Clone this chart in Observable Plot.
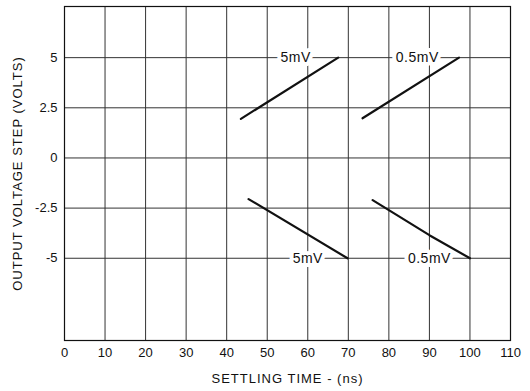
<!DOCTYPE html>
<html><head><meta charset="utf-8">
<script src="https://cdn.jsdelivr.net/npm/d3@7"></script>
<script src="https://cdn.jsdelivr.net/npm/@observablehq/plot@0.6"></script>
<style>
body{margin:0;background:#fff}
g[aria-label="x-axis label"] text, g[aria-label="y-axis label"] text {letter-spacing: 1px;}
g.curve-labels text {letter-spacing: 0.5px;}
</style>
</head><body><div id="chart"></div>
<script>
// Tick labels
const xTicks = [0, 10, 20, 30, 40, 50, 60, 70, 80, 90, 100, 110];
const yTicks = [5, 2.5, 0, -2.5, -5];
const xGrid = [10, 20, 30, 40, 50, 60, 70, 80, 90, 100];

// Series (settling time ns, output voltage V)
const rise5mVTime = [43.5, 67.5];
const rise5mVVolt = [1.95, 5];
const rise05mVTime = [73.5, 97.3];
const rise05mVVolt = [1.98, 5];
const fall5mVTime = [45.4, 69.8];
const fall5mVVolt = [-2.05, -5];
const fall05mVTime = [76.0, 90.0, 100];
const fall05mVVolt = [-2.1, -3.85, -5];

// Curve labels
const labelText = ["5mV", "0.5mV", "5mV", "0.5mV"];
const labelTime = [57, 87, 60, 90];
const labelVolt = [5, 5, -5, -5];

const xTitle = "SETTLING TIME - (ns)";
const yTitle = "OUTPUT VOLTAGE STEP (VOLTS)";

const series = [
  ["rise5", rise5mVTime, rise5mVVolt],
  ["rise05", rise05mVTime, rise05mVVolt],
  ["fall5", fall5mVTime, fall5mVVolt],
  ["fall05", fall05mVTime, fall05mVVolt]
];
const lineData = series.flatMap(([name, t, v]) => t.map((x, i) => ({name, x, y: v[i]})));
const labels = labelText.map((text, i) => ({text, x: labelTime[i], y: labelVolt[i]}));

const chart = Plot.plot({
  width: 530,
  height: 391,
  marginLeft: 64,
  marginRight: 20,
  marginTop: 6,
  marginBottom: 51,
  style: {fontFamily: "'Liberation Sans', Arial, sans-serif", fontSize: "13px", color: "#111", background: "#fff"},
  x: {domain: [0, 110]},
  y: {domain: [-9.1, 7.55]},
  marks: [
    Plot.ruleX(xGrid, {stroke: "#333", strokeWidth: 1}),
    Plot.ruleY(yTicks, {stroke: "#333", strokeWidth: 1}),
    Plot.frame({stroke: "#111", strokeWidth: 1.2}),
    Plot.axisX({ticks: xTicks, tickSize: 0, tickPadding: 7, tickFormat: d => String(d),
      label: xTitle, labelAnchor: "center", labelArrow: "none", labelOffset: 42}),
    Plot.axisY({ticks: yTicks, tickSize: 0, tickPadding: 7, tickFormat: d => String(d),
      label: yTitle, labelAnchor: "center", labelArrow: "none", labelOffset: 52}),
    Plot.text(labels, {x: "x", y: "y", text: "text", fill: "#111", stroke: "white", strokeWidth: 8, fontSize: 14, className: "curve-labels"}),
    Plot.line(lineData, {x: "x", y: "y", z: "name", stroke: "#111", strokeWidth: 2.2})
  ]
});
document.getElementById("chart").append(chart);
</script>
</body></html>
